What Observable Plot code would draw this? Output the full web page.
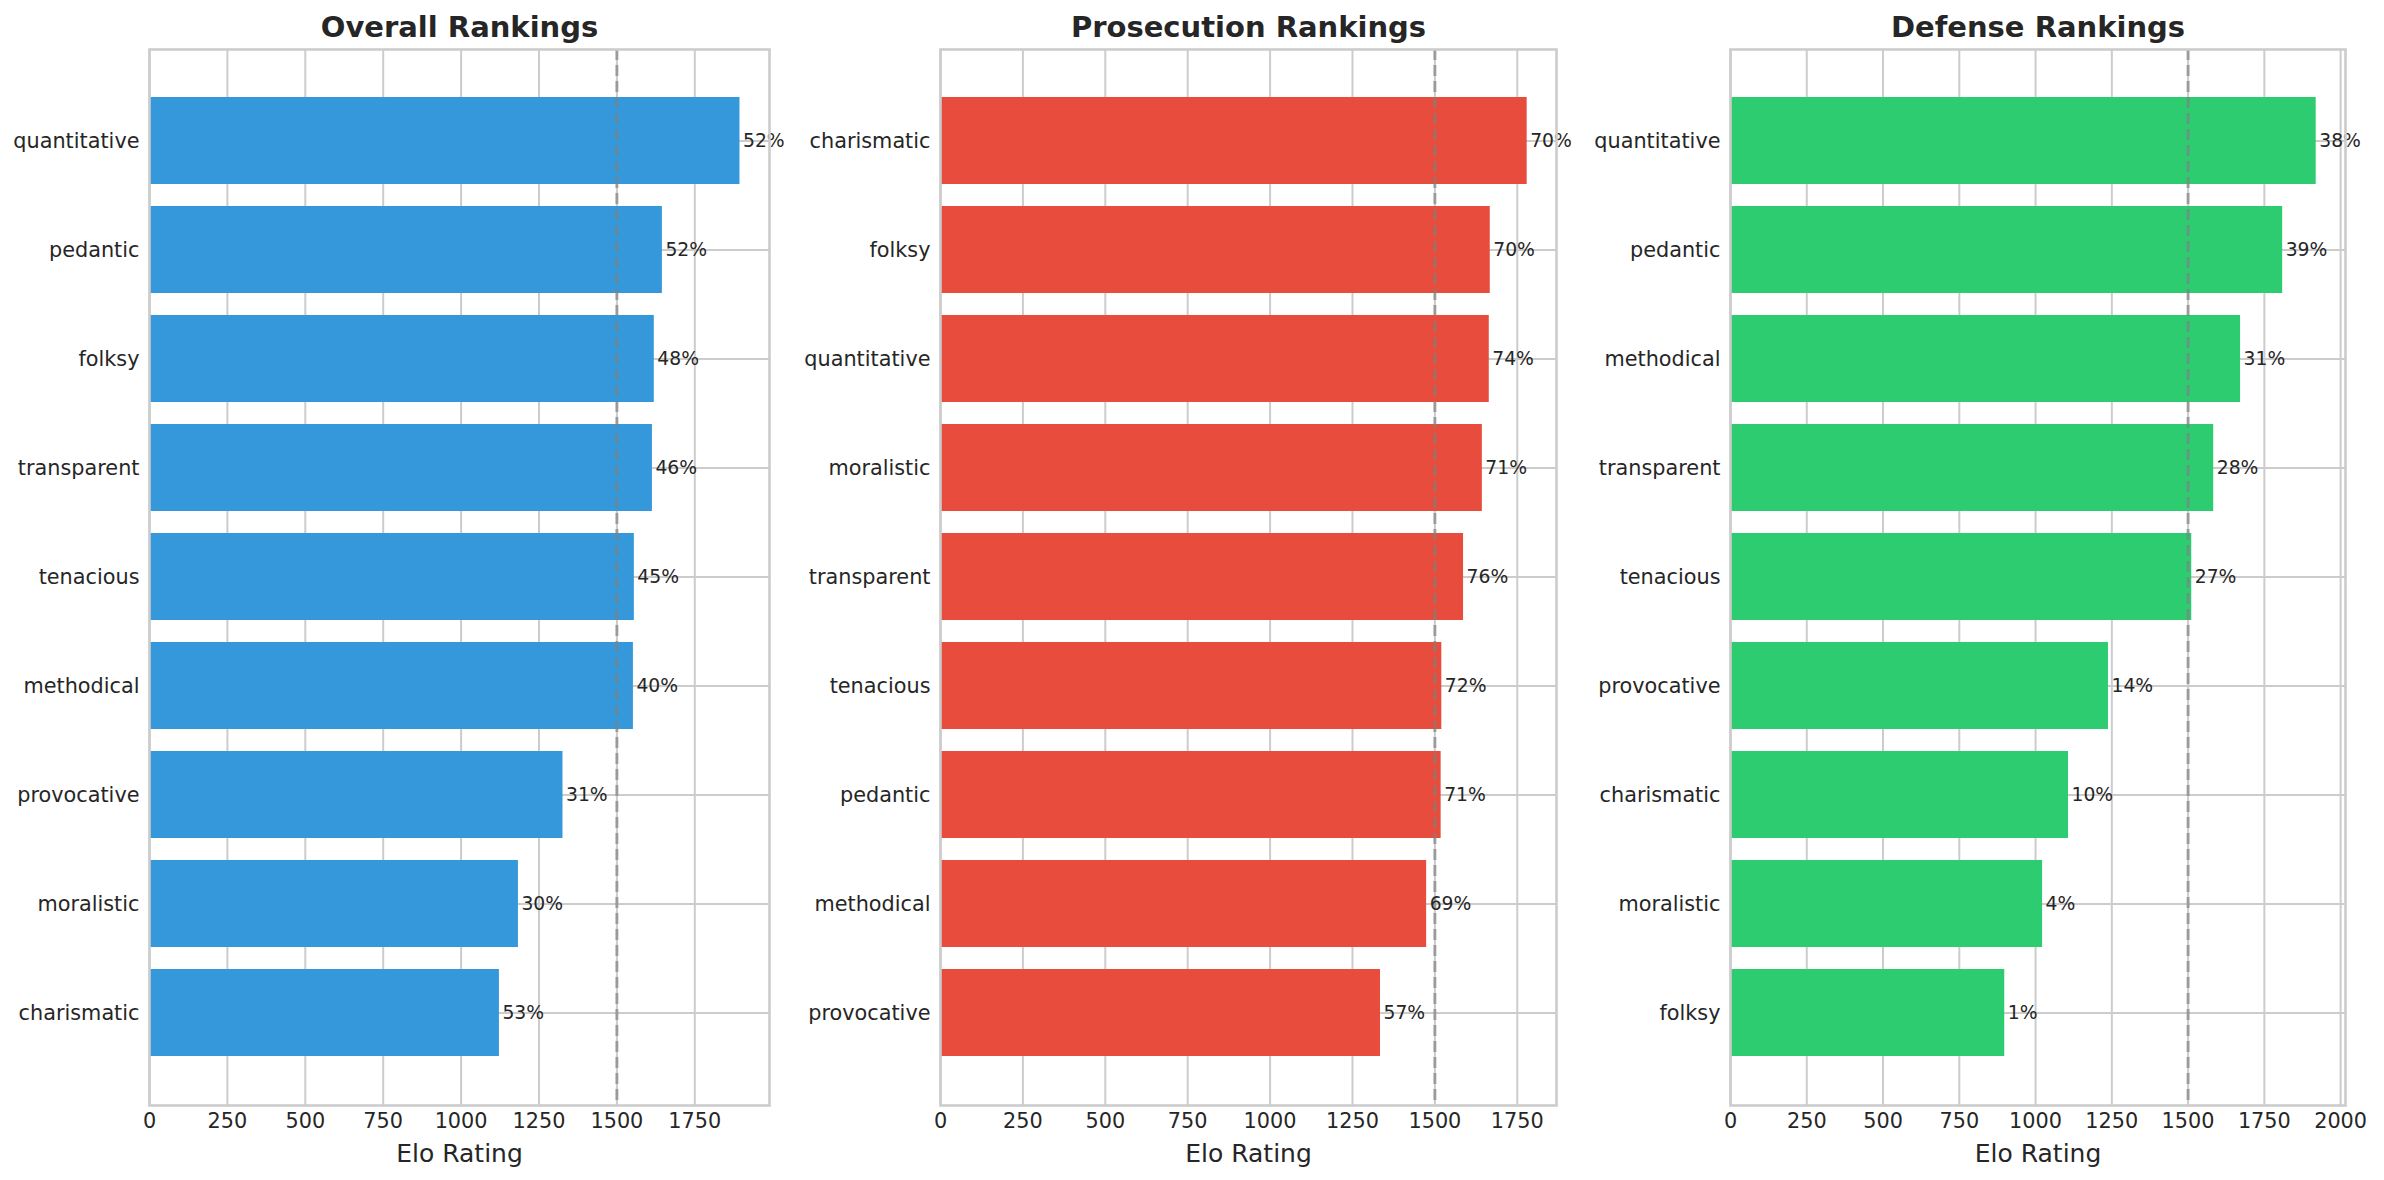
<!DOCTYPE html>
<html>
<head>
<meta charset="utf-8">
<script src="https://cdn.jsdelivr.net/npm/d3@7"></script>
<script src="https://cdn.jsdelivr.net/npm/@observablehq/plot@0.6"></script>
<style>
  html, body { margin: 0; padding: 0; background: #fff; }
  #root { position: relative; width: 2384px; height: 1180px; overflow: hidden; background: #fff; }
  #root > div { position: absolute; top: 0; }
  svg { font-family: "DejaVu Sans", sans-serif; }
</style>
</head>
<body>
<div id="root">
  <div id="p1" style="left:0px"></div>
  <div id="p2" style="left:790px"></div>
  <div id="p3" style="left:1580px"></div>
</div>
<script>
// ---- Data ----
const overallStyles = ["quantitative", "pedantic", "folksy", "transparent", "tenacious", "methodical", "provocative", "moralistic", "charismatic"];
const overallElo = [1895, 1646, 1620, 1614, 1556, 1553, 1327, 1184, 1123];
const overallWin = ["52%", "52%", "48%", "46%", "45%", "40%", "31%", "30%", "53%"];

const prosecutionStyles = ["charismatic", "folksy", "quantitative", "moralistic", "transparent", "tenacious", "pedantic", "methodical", "provocative"];
const prosecutionElo = [1780, 1668, 1665, 1644, 1587, 1521, 1519, 1475, 1335];
const prosecutionWin = ["70%", "70%", "74%", "71%", "76%", "72%", "71%", "69%", "57%"];

const defenseStyles = ["quantitative", "pedantic", "methodical", "transparent", "tenacious", "provocative", "charismatic", "moralistic", "folksy"];
const defenseElo = [1920, 1810, 1672, 1584, 1512, 1239, 1108, 1023, 899];
const defenseWin = ["38%", "39%", "31%", "28%", "27%", "14%", "10%", "4%", "1%"];

const panelTitles = ["Overall Rankings", "Prosecution Rankings", "Defense Rankings"];
const panelColors = ["#3498db", "#e74c3c", "#2ecc71"];
const xTicksA = [0, 250, 500, 750, 1000, 1250, 1500, 1750];
const xTicksB = [0, 250, 500, 750, 1000, 1250, 1500, 1750, 2000];
const baselineElo = 1500;
const xLabel = "Elo Rating";

// ---- Drawing ----
const TEXT = "#262626";
const GRID = "#cccccc";

function panel({styles, elo, win, title, color, ticks, width, marginLeft, marginRight}) {
  const rows = styles.map((s, i) => ({style: s, elo: elo[i], win: win[i]}));
  const xmax = d3.max(elo) * 1.05;
  return Plot.plot({
    width,
    height: 1180,
    marginTop: 49,
    marginBottom: 75,
    marginLeft,
    marginRight,
    style: {fontFamily: "DejaVu Sans, sans-serif", background: "white", color: TEXT},
    x: {domain: [0, xmax]},
    y: {domain: styles, paddingInner: 0.2, paddingOuter: 0.44},
    marks: [
      Plot.gridX(ticks, {stroke: GRID, strokeOpacity: 1, strokeWidth: 2}),
      Plot.gridY(styles, {stroke: GRID, strokeOpacity: 1, strokeWidth: 2}),
      Plot.barX(rows, {y: "style", x: "elo", fill: color}),
      Plot.ruleX([baselineElo], {stroke: "#808080", strokeOpacity: 0.65, strokeWidth: 3, strokeDasharray: "11,5"}),
      Plot.text(rows, {y: "style", x: "elo", text: "win", textAnchor: "start", dx: 3, fontSize: 18.75, fill: TEXT}),
      Plot.frame({stroke: GRID, strokeWidth: 2.6}),
      Plot.axisX(ticks, {tickSize: 0, tickPadding: 8, fontSize: 20.8, fill: TEXT, label: null, tickFormat: d => String(d)}),
      Plot.axisY({tickSize: 0, tickPadding: 10, fontSize: 20.8, fill: TEXT, label: null}),
      Plot.text([xLabel], {frameAnchor: "bottom", lineAnchor: "middle", dy: 48, fontSize: 25, fill: TEXT}),
      Plot.text([title], {frameAnchor: "top", lineAnchor: "middle", dy: -22, fontSize: 29, fontWeight: "bold", fill: TEXT})
    ]
  });
}

document.getElementById("p1").append(panel({
  styles: overallStyles, elo: overallElo, win: overallWin, title: panelTitles[0], color: panelColors[0],
  ticks: xTicksA, width: 790, marginLeft: 149, marginRight: 21
}));
document.getElementById("p2").append(panel({
  styles: prosecutionStyles, elo: prosecutionElo, win: prosecutionWin, title: panelTitles[1], color: panelColors[1],
  ticks: xTicksA, width: 790, marginLeft: 150, marginRight: 24
}));
document.getElementById("p3").append(panel({
  styles: defenseStyles, elo: defenseElo, win: defenseWin, title: panelTitles[2], color: panelColors[2],
  ticks: xTicksB, width: 804, marginLeft: 150, marginRight: 39
}));
</script>
</body>
</html>
